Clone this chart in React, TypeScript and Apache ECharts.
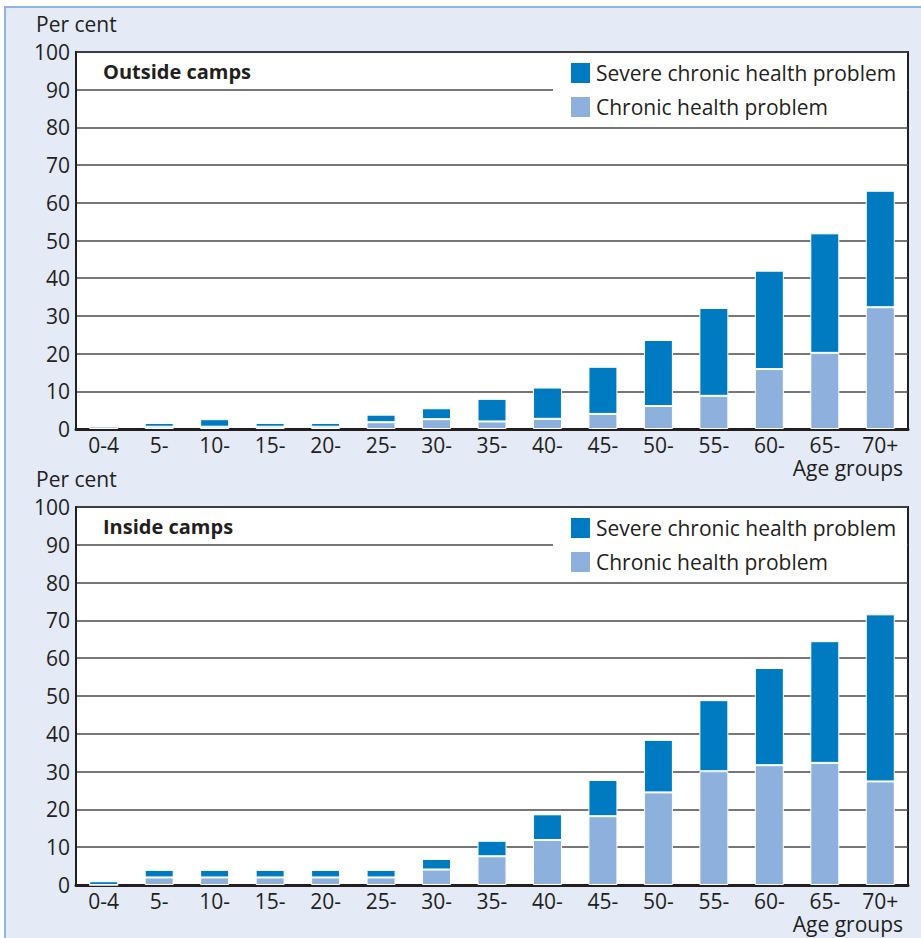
import React, { useEffect, useRef } from "react";
import * as echarts from "echarts";

const categories = ["0-4", "5-", "10-", "15-", "20-", "25-", "30-", "35-", "40-", "45-", "50-", "55-", "60-", "65-", "70+"];
const outsideChronic = [0.7, 0.6, 0.6, 0.6, 0.6, 1.8, 2.6, 2.0, 2.7, 4.0, 6.1, 8.8, 15.9, 20.2, 32.3];
const outsideSevere = [0, 1.0, 2.0, 1.0, 1.0, 2.0, 2.9, 6.0, 8.3, 12.5, 17.5, 23.3, 26.1, 31.7, 30.9];
const insideChronic = [0, 2.0, 2.0, 2.0, 2.0, 2.0, 4.1, 7.6, 11.9, 18.2, 24.5, 30.1, 31.7, 32.3, 27.4];
const insideSevere = [1.0, 2.0, 2.0, 2.0, 2.0, 2.0, 2.8, 4.1, 6.8, 9.6, 13.9, 18.8, 25.7, 32.2, 44.2];
const seriesNames = ["Severe chronic health problem", "Chronic health problem"];
const panelTitles = ["Outside camps", "Inside camps"];

const SEVERE = "#007bc2";
const CHRONIC = "#8db0dc";
const TEXT = "#231f20";
const FONT = "'Open Sans', 'Noto Sans', sans-serif";
const FS = 21;

export default function App() {
  const ref = useRef<HTMLDivElement>(null);
  useEffect(() => {
    if (!ref.current) return;
    const chart = echarts.init(ref.current, undefined, { renderer: "svg" });
    const grids = [
      { left: 76, top: 52, width: 832, height: 377 },
      { left: 76, top: 507, width: 832, height: 378 },
    ];
    const xAxes = grids.map((_, i) => ({
      type: "category",
      gridIndex: i,
      data: categories,
      axisTick: { show: false },
      axisLine: { lineStyle: { color: TEXT, width: 3 } },
      axisLabel: { fontSize: FS, lineHeight: 18, color: TEXT, margin: 7, fontFamily: FONT },
    }));
    const yAxes = grids.map((_, i) => ({
      type: "value",
      gridIndex: i,
      min: 0,
      max: 100,
      interval: 10,
      axisLine: { show: true, lineStyle: { color: TEXT, width: 2 } },
      axisTick: { show: false },
      axisLabel: { fontSize: FS, color: TEXT, margin: 6, fontFamily: FONT },
      splitLine: { lineStyle: { color: "#4a4a4a", width: 1.5 } },
    }));
    const mk = (name: string, data: number[], idx: number, color: string) => ({
      type: "bar",
      name,
      data,
      xAxisIndex: idx,
      yAxisIndex: idx,
      stack: "s" + idx,
      barWidth: 29,
      itemStyle: { color, borderColor: "#fff", borderWidth: 1 },
    });
    const series = [
      mk(seriesNames[1], outsideChronic, 0, CHRONIC),
      mk(seriesNames[0], outsideSevere, 0, SEVERE),
      mk(seriesNames[1], insideChronic, 1, CHRONIC),
      mk(seriesNames[0], insideSevere, 1, SEVERE),
    ];
    const legends = grids.map((g) => ({
      orient: "vertical",
      left: 569,
      top: g.top + 9,
      padding: 0,
      itemWidth: 21,
      itemHeight: 22,
      itemGap: 10,
      icon: "rect",
      z: 10,
      selectedMode: false,
      data: seriesNames,
      textStyle: { fontSize: FS, color: TEXT, fontFamily: FONT },
    }));
    const graphics: any[] = [
      {
        type: "rect",
        z: -10,
        shape: { x: 5, y: 7, width: 930, height: 940 },
        style: { fill: "#e4eaf6", stroke: "#8fb3e3", lineWidth: 2 },
      },
    ];
    grids.forEach((g, i) => {
      graphics.push(
        {
          type: "rect",
          z: 3,
          shape: { x: 553, y: g.top + 1, width: 354, height: 73 },
          style: { fill: "#fff" },
        },
        {
          type: "text",
          x: 36,
          y: g.top - 28,
          style: { text: "Per cent", fontSize: FS, fill: TEXT, fontFamily: FONT, verticalAlign: "middle" },
        },
        {
          type: "text",
          x: 903,
          y: g.top + g.height + 39,
          style: { text: "Age groups", fontSize: FS, lineHeight: 18, fill: TEXT, fontFamily: FONT, align: "right", verticalAlign: "middle" },
        },
        {
          type: "text",
          x: 103,
          y: g.top + 19,
          z: 5,
          style: { text: panelTitles[i], fontSize: 20, fontWeight: "bold", fill: TEXT, fontFamily: FONT, verticalAlign: "middle" },
        }
      );
    });
    chart.setOption({
      animation: false,
      backgroundColor: "#fff",
      grid: grids.map((g) => ({ ...g, show: true, backgroundColor: "#fff", borderColor: TEXT, borderWidth: 2 })),
      xAxis: xAxes,
      yAxis: yAxes,
      legend: legends,
      series,
      graphic: graphics,
    } as any);
    return () => chart.dispose();
  }, []);
  return (
    <div style={{ position: "absolute", left: 0, top: 0, width: 921, height: 938 }}>
      <div ref={ref} style={{ width: 921, height: 938 }} />
    </div>
  );
}
